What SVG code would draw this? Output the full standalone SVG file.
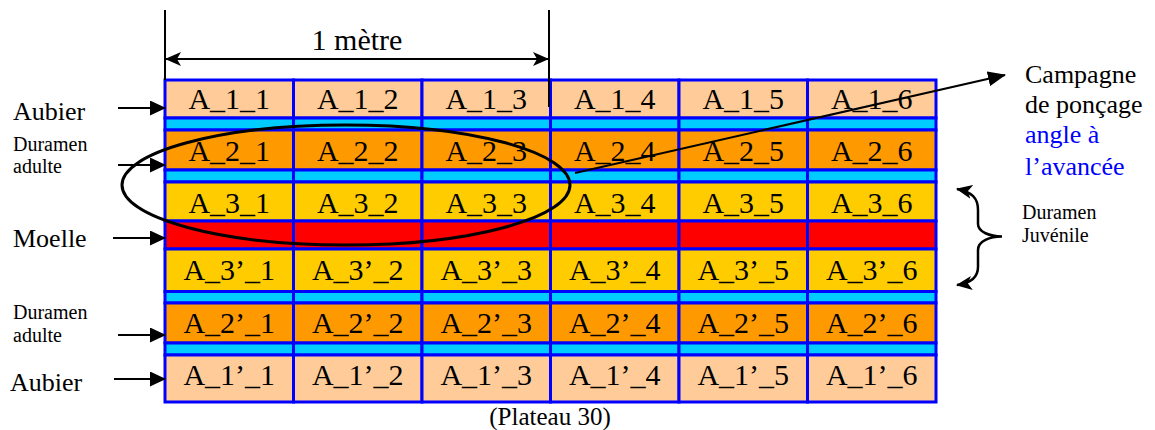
<svg xmlns="http://www.w3.org/2000/svg" width="1155" height="430" viewBox="0 0 1155 430">
<style>
text{font-family:"Liberation Serif","Times New Roman",serif;fill:#000}
.cell text{font-size:30px;text-anchor:middle}
.c rect{stroke:#0000FF;stroke-width:3}
.p{fill:#FFCC99}.o{fill:#FF9900}.y{fill:#FFCC00}.b{fill:#00CCFF}.r{fill:#FF0000}
.lbl{font-size:26px}
.sm{font-size:20px}
.blue{fill:#0000FF}
.ln{stroke:#000;stroke-width:2;fill:none}
</style>
<defs>
<marker id="ah" markerUnits="userSpaceOnUse" markerWidth="16" markerHeight="15" refX="15" refY="7.5" orient="auto-start-reverse" viewBox="0 0 16 15">
<path d="M0,0 L16,7.5 L0,15 z" fill="#000"/>
</marker>
<marker id="ah2" markerUnits="userSpaceOnUse" markerWidth="18" markerHeight="15" refX="17" refY="7.5" orient="auto" viewBox="0 0 18 15">
<path d="M0,0 L18,7.5 L0,15 z" fill="#000"/>
</marker>
<marker id="ahb" markerUnits="userSpaceOnUse" markerWidth="16" markerHeight="14" refX="15" refY="7" orient="auto-start-reverse" viewBox="0 0 16 14">
<path d="M0,0 L16,7 L0,14 L4,7 z" fill="#000"/>
</marker>
</defs>

<g id="grid" class="c">
<!-- row 1 -->
<g id="A_1_1" class="cell"><rect class="p" x="165" y="80" width="128.5" height="38"/><text x="229.25" y="109">A_1_1</text></g>
<g id="A_1_2" class="cell"><rect class="p" x="293.5" y="80" width="128.5" height="38"/><text x="357.75" y="109">A_1_2</text></g>
<g id="A_1_3" class="cell"><rect class="p" x="422" y="80" width="128.5" height="38"/><text x="486.25" y="109">A_1_3</text></g>
<g id="A_1_4" class="cell"><rect class="p" x="550.5" y="80" width="128.5" height="38"/><text x="614.75" y="109">A_1_4</text></g>
<g id="A_1_5" class="cell"><rect class="p" x="679" y="80" width="128.5" height="38"/><text x="743.25" y="109">A_1_5</text></g>
<g id="A_1_6" class="cell"><rect class="p" x="807.5" y="80" width="128.5" height="38"/><text x="871.75" y="109">A_1_6</text></g>
<!-- cyan 1 -->
<g id="cyan1">
<rect class="b" x="165" y="118" width="128.5" height="12"/><rect class="b" x="293.5" y="118" width="128.5" height="12"/><rect class="b" x="422" y="118" width="128.5" height="12"/><rect class="b" x="550.5" y="118" width="128.5" height="12"/><rect class="b" x="679" y="118" width="128.5" height="12"/><rect class="b" x="807.5" y="118" width="128.5" height="12"/>
</g>
<!-- row 2 -->
<g id="A_2_1" class="cell"><rect class="o" x="165" y="130" width="128.5" height="40"/><text x="229.25" y="160.7">A_2_1</text></g>
<g id="A_2_2" class="cell"><rect class="o" x="293.5" y="130" width="128.5" height="40"/><text x="357.75" y="160.7">A_2_2</text></g>
<g id="A_2_3" class="cell"><rect class="o" x="422" y="130" width="128.5" height="40"/><text x="486.25" y="160.7">A_2_3</text></g>
<g id="A_2_4" class="cell"><rect class="o" x="550.5" y="130" width="128.5" height="40"/><text x="614.75" y="160.7">A_2_4</text></g>
<g id="A_2_5" class="cell"><rect class="o" x="679" y="130" width="128.5" height="40"/><text x="743.25" y="160.7">A_2_5</text></g>
<g id="A_2_6" class="cell"><rect class="o" x="807.5" y="130" width="128.5" height="40"/><text x="871.75" y="160.7">A_2_6</text></g>
<!-- cyan 2 -->
<g id="cyan2">
<rect class="b" x="165" y="170" width="128.5" height="12"/><rect class="b" x="293.5" y="170" width="128.5" height="12"/><rect class="b" x="422" y="170" width="128.5" height="12"/><rect class="b" x="550.5" y="170" width="128.5" height="12"/><rect class="b" x="679" y="170" width="128.5" height="12"/><rect class="b" x="807.5" y="170" width="128.5" height="12"/>
</g>
<!-- row 3 -->
<g id="A_3_1" class="cell"><rect class="y" x="165" y="182" width="128.5" height="39"/><text x="229.25" y="212.7">A_3_1</text></g>
<g id="A_3_2" class="cell"><rect class="y" x="293.5" y="182" width="128.5" height="39"/><text x="357.75" y="212.7">A_3_2</text></g>
<g id="A_3_3" class="cell"><rect class="y" x="422" y="182" width="128.5" height="39"/><text x="486.25" y="212.7">A_3_3</text></g>
<g id="A_3_4" class="cell"><rect class="y" x="550.5" y="182" width="128.5" height="39"/><text x="614.75" y="212.7">A_3_4</text></g>
<g id="A_3_5" class="cell"><rect class="y" x="679" y="182" width="128.5" height="39"/><text x="743.25" y="212.7">A_3_5</text></g>
<g id="A_3_6" class="cell"><rect class="y" x="807.5" y="182" width="128.5" height="39"/><text x="871.75" y="212.7">A_3_6</text></g>
<!-- moelle -->
<g id="moelle_row">
<rect class="r" x="165" y="221" width="128.5" height="28"/><rect class="r" x="293.5" y="221" width="128.5" height="28"/><rect class="r" x="422" y="221" width="128.5" height="28"/><rect class="r" x="550.5" y="221" width="128.5" height="28"/><rect class="r" x="679" y="221" width="128.5" height="28"/><rect class="r" x="807.5" y="221" width="128.5" height="28"/>
</g>
<!-- row 3' -->
<g id="A_3p_1" class="cell"><rect class="y" x="165" y="249" width="128.5" height="42.5"/><text x="229.25" y="280">A_3’_1</text></g>
<g id="A_3p_2" class="cell"><rect class="y" x="293.5" y="249" width="128.5" height="42.5"/><text x="357.75" y="280">A_3’_2</text></g>
<g id="A_3p_3" class="cell"><rect class="y" x="422" y="249" width="128.5" height="42.5"/><text x="486.25" y="280">A_3’_3</text></g>
<g id="A_3p_4" class="cell"><rect class="y" x="550.5" y="249" width="128.5" height="42.5"/><text x="614.75" y="280">A_3’_4</text></g>
<g id="A_3p_5" class="cell"><rect class="y" x="679" y="249" width="128.5" height="42.5"/><text x="743.25" y="280">A_3’_5</text></g>
<g id="A_3p_6" class="cell"><rect class="y" x="807.5" y="249" width="128.5" height="42.5"/><text x="871.75" y="280">A_3’_6</text></g>
<!-- cyan 3 -->
<g id="cyan3">
<rect class="b" x="165" y="291.5" width="128.5" height="11.5"/><rect class="b" x="293.5" y="291.5" width="128.5" height="11.5"/><rect class="b" x="422" y="291.5" width="128.5" height="11.5"/><rect class="b" x="550.5" y="291.5" width="128.5" height="11.5"/><rect class="b" x="679" y="291.5" width="128.5" height="11.5"/><rect class="b" x="807.5" y="291.5" width="128.5" height="11.5"/>
</g>
<!-- row 2' -->
<g id="A_2p_1" class="cell"><rect class="o" x="165" y="303" width="128.5" height="40"/><text x="229.25" y="333">A_2’_1</text></g>
<g id="A_2p_2" class="cell"><rect class="o" x="293.5" y="303" width="128.5" height="40"/><text x="357.75" y="333">A_2’_2</text></g>
<g id="A_2p_3" class="cell"><rect class="o" x="422" y="303" width="128.5" height="40"/><text x="486.25" y="333">A_2’_3</text></g>
<g id="A_2p_4" class="cell"><rect class="o" x="550.5" y="303" width="128.5" height="40"/><text x="614.75" y="333">A_2’_4</text></g>
<g id="A_2p_5" class="cell"><rect class="o" x="679" y="303" width="128.5" height="40"/><text x="743.25" y="333">A_2’_5</text></g>
<g id="A_2p_6" class="cell"><rect class="o" x="807.5" y="303" width="128.5" height="40"/><text x="871.75" y="333">A_2’_6</text></g>
<!-- cyan 4 -->
<g id="cyan4">
<rect class="b" x="165" y="343" width="128.5" height="12"/><rect class="b" x="293.5" y="343" width="128.5" height="12"/><rect class="b" x="422" y="343" width="128.5" height="12"/><rect class="b" x="550.5" y="343" width="128.5" height="12"/><rect class="b" x="679" y="343" width="128.5" height="12"/><rect class="b" x="807.5" y="343" width="128.5" height="12"/>
</g>
<!-- row 1' -->
<g id="A_1p_1" class="cell"><rect class="p" x="165" y="355" width="128.5" height="47"/><text x="229.25" y="385">A_1’_1</text></g>
<g id="A_1p_2" class="cell"><rect class="p" x="293.5" y="355" width="128.5" height="47"/><text x="357.75" y="385">A_1’_2</text></g>
<g id="A_1p_3" class="cell"><rect class="p" x="422" y="355" width="128.5" height="47"/><text x="486.25" y="385">A_1’_3</text></g>
<g id="A_1p_4" class="cell"><rect class="p" x="550.5" y="355" width="128.5" height="47"/><text x="614.75" y="385">A_1’_4</text></g>
<g id="A_1p_5" class="cell"><rect class="p" x="679" y="355" width="128.5" height="47"/><text x="743.25" y="385">A_1’_5</text></g>
<g id="A_1p_6" class="cell"><rect class="p" x="807.5" y="355" width="128.5" height="47"/><text x="871.75" y="385">A_1’_6</text></g>
</g>

<g id="labels">
<g id="lbl_aubier_top"><text class="lbl" x="13" y="120">Aubier</text></g>
<g id="lbl_duramen_top"><text class="sm" x="13" y="151">Duramen</text><text class="sm" x="13" y="173">adulte</text></g>
<g id="lbl_moelle"><text class="lbl" x="13" y="247">Moelle</text></g>
<g id="lbl_duramen_bot"><text class="sm" x="13" y="319">Duramen</text><text class="sm" x="13" y="342">adulte</text></g>
<g id="lbl_aubier_bot"><text class="lbl" x="10" y="391">Aubier</text></g>
<g id="lbl_metre"><text style="font-size:30px" x="357" y="50" text-anchor="middle">1 mètre</text></g>
<g id="lbl_campagne"><text class="lbl" x="1025" y="83">Campagne</text><text class="lbl" x="1025" y="113">de ponçage</text><text class="lbl blue" x="1025" y="143">angle à</text><text class="lbl blue" x="1025" y="175">l’avancée</text></g>
<g id="lbl_juvenile"><text class="sm" x="1022" y="219">Duramen</text><text class="sm" x="1022" y="242">Juvénile</text></g>
<g id="lbl_plateau"><text style="font-size:25px" x="550" y="425" text-anchor="middle">(Plateau 30)</text></g>
</g>

<g id="connectors">
<ellipse cx="346" cy="185" rx="224" ry="60" fill="none" stroke="#000" stroke-width="3"/>
<line class="ln" x1="118" y1="108" x2="165" y2="108" marker-end="url(#ah)"/>
<line class="ln" x1="118" y1="165" x2="165" y2="165" marker-end="url(#ah)"/>
<line class="ln" x1="113" y1="238" x2="165" y2="238" marker-end="url(#ah)"/>
<line class="ln" x1="118" y1="335" x2="165" y2="335" marker-end="url(#ah)"/>
<line class="ln" x1="114" y1="379" x2="165" y2="379" marker-end="url(#ah)"/>
<line class="ln" x1="165" y1="10" x2="165" y2="80"/>
<line class="ln" x1="549" y1="10" x2="549" y2="107"/>
<line class="ln" x1="166" y1="59" x2="548" y2="59" marker-start="url(#ahb)" marker-end="url(#ahb)"/>
<line class="ln" x1="575" y1="173" x2="1005" y2="75" marker-end="url(#ah2)"/>
<path class="ln" style="stroke-width:2.5" d="M957,189 C972,192 978,198 978,210 L978,224 C978,232 990,236.5 1002,236.5 C990,236.5 978,241 978,250 L978,267 C978,277 972,283 957,285" marker-start="url(#ahb)" marker-end="url(#ahb)"/>
</g>
</svg>
